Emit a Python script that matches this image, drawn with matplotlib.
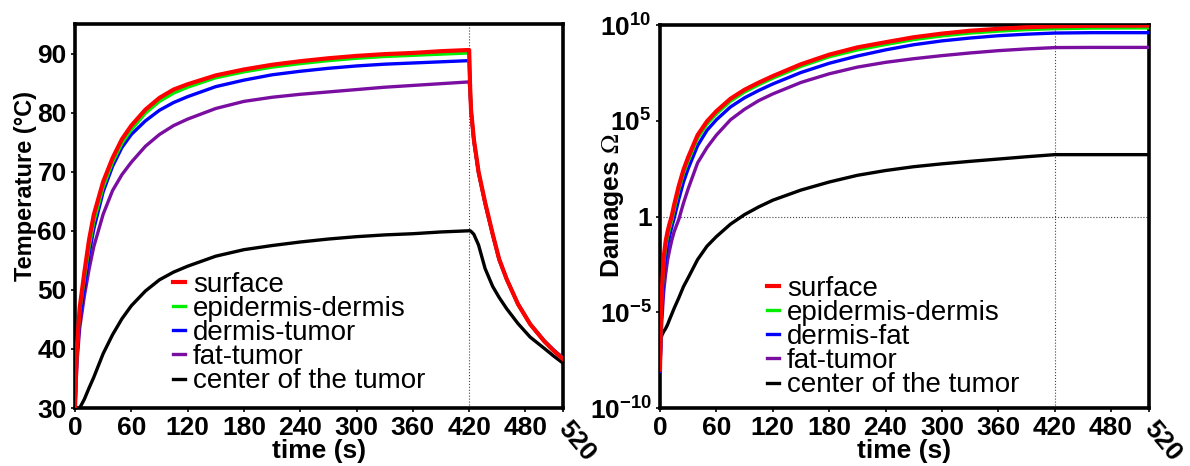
import numpy as np
import matplotlib
matplotlib.use("Agg")
import matplotlib.pyplot as plt
import matplotlib.transforms as mtransforms

plt.rcParams['font.family'] = ['Liberation Sans', 'DejaVu Sans']
plt.rcParams['mathtext.fontset'] = 'stix'

# ---- temperature panel (left) ----
t_temp = [0, 2, 5, 10, 15, 20, 30, 40, 50, 60, 75, 90, 105, 120, 150, 180, 210, 240, 270,
          300, 330, 360, 390, 420, 421, 422, 425, 430, 437, 445, 452, 460, 472, 485, 500, 510, 520]
T_surface = [30, 40, 47, 53, 58.5, 62.7, 68.3, 72.3, 75.5, 77.8, 80.5, 82.5, 83.9, 84.8, 86.3, 87.3,
             88.1, 88.7, 89.2, 89.6, 89.9, 90.1, 90.4, 90.6, 84.5, 80.5, 75.5, 70.0, 64.8, 59.5,
             55.2, 51.8, 47.6, 44.2, 41.3, 39.7, 38.3]
T_epi = [30, 39.5, 46.5, 52, 57.3, 61.5, 67.4, 71.6, 74.8, 77.1, 79.9, 81.9, 83.3, 84.3, 85.9, 86.9,
         87.7, 88.3, 88.8, 89.2, 89.5, 89.7, 89.9, 90.1, 84.4, 80.4, 75.4, 69.9, 64.7, 59.4,
         55.1, 51.8, 47.6, 44.2, 41.3, 39.7, 38.4]
T_dermis = [30, 38.5, 45, 50.5, 56, 60.3, 66.6, 70.9, 74.1, 76.3, 78.6, 80.4, 81.7, 82.7, 84.4, 85.5,
            86.4, 87.0, 87.5, 87.9, 88.2, 88.4, 88.6, 88.8, 84.2, 80.3, 75.3, 69.9, 64.7, 59.4,
            55.1, 51.8, 47.6, 44.2, 41.3, 39.8, 38.4]
T_fat = [30, 37.5, 43.5, 49, 53.5, 57.3, 62.8, 66.8, 69.5, 71.6, 74.3, 76.3, 77.8, 78.9, 80.7, 81.9,
         82.6, 83.1, 83.5, 83.9, 84.3, 84.6, 84.9, 85.2, 83.5, 80.2, 75.2, 69.8, 64.6, 59.4,
         55.1, 51.8, 47.6, 44.2, 41.4, 39.8, 38.5]
T_center = [30, 30, 30, 31.5, 33.4, 35.2, 39.2, 42.4, 45.1, 47.3, 49.8, 51.7, 53.0, 54.0, 55.7, 56.8,
            57.5, 58.1, 58.6, 59.0, 59.3, 59.5, 59.8, 60.0, 60.0, 59.9, 59.4, 57.6, 53.6, 50.6,
            48.7, 46.8, 44.3, 42.0, 40.1, 38.8, 37.6]

# ---- damage panel (right), log10 of Omega ----
t_dam = [0, 1, 2, 4, 6, 8, 10, 12.5, 15, 20, 25, 30, 40, 50, 60, 75, 90, 105, 120, 150, 180,
         210, 240, 270, 300, 330, 360, 390, 420, 460, 520]
logD_surface = [-8, -5, -3.8, -2.1, -1.3, -0.8, -0.4, 0.02, 0.6, 1.6, 2.44, 3.1, 4.25, 4.97, 5.5,
                6.15, 6.62, 6.99, 7.33, 7.95, 8.45, 8.83, 9.1, 9.36, 9.55, 9.7, 9.8, 9.88, 9.93, 9.96, 9.97]
logD_epi = [-8, -5.3, -4.1, -2.4, -1.6, -1.05, -0.65, -0.2, 0.35, 1.4, 2.25, 2.9, 4.08, 4.82, 5.36,
            6.02, 6.5, 6.88, 7.22, 7.84, 8.34, 8.7, 8.98, 9.24, 9.43, 9.58, 9.68, 9.76, 9.81, 9.84, 9.85]
logD_dermis = [-8.1, -6, -4.8, -3, -2.1, -1.5, -1.05, -0.55, -0.1, 0.9, 1.8, 2.5, 3.7, 4.5, 5.05,
               5.72, 6.2, 6.58, 6.92, 7.52, 8.0, 8.38, 8.7, 8.97, 9.17, 9.32, 9.44, 9.52, 9.58, 9.6, 9.6]
logD_fat = [-8.1, -6.5, -5.4, -3.9, -3.0, -2.3, -1.8, -1.25, -0.8, -0.15, 0.7, 1.45, 2.8, 3.6, 4.25,
            5.05, 5.6, 6.05, 6.4, 7.0, 7.45, 7.8, 8.05, 8.24, 8.4, 8.54, 8.66, 8.75, 8.82, 8.83, 8.83]
logD_center = [-8, -6.4, -6.2, -6.0, -5.85, -5.65, -5.4, -5.1, -4.8, -4.25, -3.66, -3.2, -2.25, -1.55,
               -1.05, -0.4, 0.1, 0.5, 0.85, 1.38, 1.8, 2.15, 2.4, 2.6, 2.75, 2.88, 3.0, 3.12, 3.23, 3.23, 3.23]

labels_left = ['surface', 'epidermis-dermis', 'dermis-tumor', 'fat-tumor', 'center of the tumor']
labels_right = ['surface', 'epidermis-dermis', 'dermis-fat', 'fat-tumor', 'center of the tumor']
colors = ['#ff0000', '#00ee00', '#0000ff', '#7a0ea0', '#000000']
xticks = [0, 60, 120, 180, 240, 300, 360, 420, 480, 520]

tick_font = dict(family='Liberation Sans', weight='bold', size=19)
fig = plt.figure(figsize=(11.9, 4.66), dpi=100)
ax1 = fig.add_axes([75 / 1190, 1 - 408 / 466, 488 / 1190, 384 / 466])
ax2 = fig.add_axes([660 / 1190, 1 - 408 / 466, 488.6 / 1190, 383 / 466])


def style_axis(ax):
    for s in ax.spines.values():
        s.set_linewidth(2.6)
    ax.set_xlim(0, 520)
    ax.set_xticks(xticks)
    # last tick label (520) is drawn slanted, separately below
    ax.set_xticklabels([str(v) for v in xticks[:-1]] + [''])
    ax.tick_params(direction='out', length=3, width=1.2, pad=3)
    for lab in ax.get_xticklabels() + ax.get_yticklabels():
        lab.set_fontproperties(tick_font)
    trans = mtransforms.blended_transform_factory(ax.transData, ax.transAxes)
    ax.text(xticks[-1], -0.042, str(xticks[-1]), transform=trans, rotation=-50,
            rotation_mode='anchor', ha='left', va='center', fontdict=tick_font)
    ax.set_xlabel('time (s)', fontweight='bold', fontsize=19)
    ax.xaxis.set_label_coords(0.5, -0.08)


# left panel
temps = [T_surface, T_epi, T_dermis, T_fat, T_center]
lines = []
for i in range(4, -1, -1):
    lw = 3.0 if i == 0 else 2.4
    ln, = ax1.plot(t_temp, temps[i], color=colors[i], lw=lw, zorder=3 + (4 - i))
    lines.insert(0, ln)
ax1.set_ylim(30, 95)
ax1.set_yticks([30, 40, 50, 60, 70, 80, 90])
ax1.axvline(420, color='#444444', lw=0.8, ls=':', zorder=1)
style_axis(ax1)
ax1.set_ylabel('Temperature (°C)', fontweight='bold', fontsize=17)
ax1.yaxis.set_label_coords(-0.077, 0.578)
ax1.legend(lines, labels_left, loc='upper left', frameon=False, fontsize=20,
           handlelength=0.42, handletextpad=0.3, labelspacing=-0.07, borderpad=0,
           borderaxespad=0, bbox_to_anchor=(173 / 1190, 1 - 272 / 466),
           bbox_transform=fig.transFigure)

# right panel
dams = [logD_surface, logD_epi, logD_dermis, logD_fat, logD_center]
lines = []
for i in range(4, -1, -1):
    lw = 3.0 if i == 0 else 2.4
    ln, = ax2.plot(t_dam, 10.0 ** np.array(dams[i]), color=colors[i], lw=lw, zorder=3 + (4 - i))
    lines.insert(0, ln)
ax2.set_yscale('log')
ax2.set_ylim(1e-10, 1e10)
ax2.set_yticks([1e-10, 1e-5, 1, 1e5, 1e10])
ax2.minorticks_off()
ax2.set_yticklabels([r'$\mathregular{10^{-10}}$', r'$\mathregular{10^{-5}}$', '1',
                     r'$\mathregular{10^{5}}$', r'$\mathregular{10^{10}}$'])
ax2.axvline(420, color='#444444', lw=0.8, ls=':', zorder=1)
ax2.axhline(1, color='#444444', lw=0.8, ls=':', zorder=1)
style_axis(ax2)
ax2.set_ylabel(r'Damages $\Omega$', fontweight='bold', fontsize=19)
ax2.yaxis.set_label_coords(-0.07, 0.53)
ax2.legend(lines, labels_right, loc='upper left', frameon=False, fontsize=20,
           handlelength=0.42, handletextpad=0.3, labelspacing=-0.07, borderpad=0,
           borderaxespad=0, bbox_to_anchor=(767 / 1190, 1 - 276 / 466),
           bbox_transform=fig.transFigure)

fig.savefig('out.png', dpi=100)
